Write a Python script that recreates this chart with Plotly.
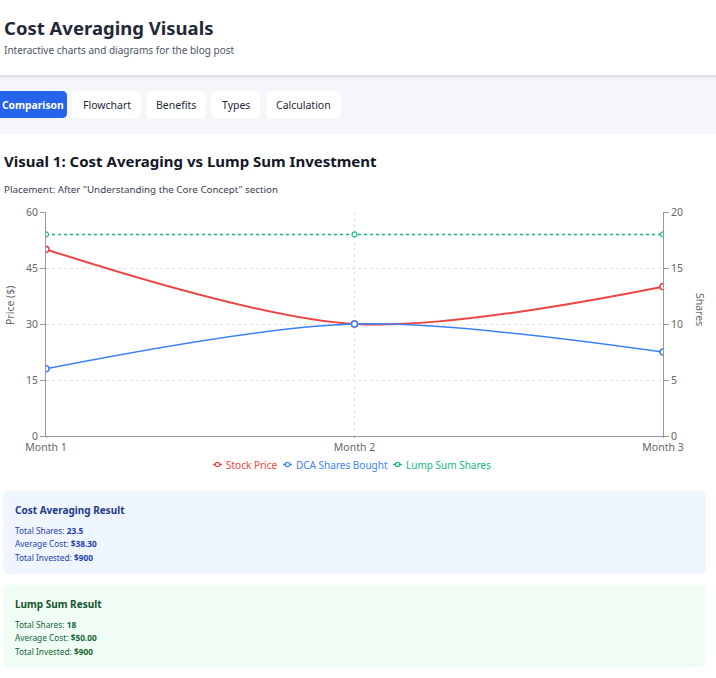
import plotly.graph_objects as go

# ---- data ----
months = ["Month 1", "Month 2", "Month 3"]
stock_price = [50, 30, 40]
dca_shares = [6, 10, 7.5]
lump_shares = [18, 18, 18]
price_ticks = [0, 15, 30, 45, 60]
share_ticks = [0, 5, 10, 15, 20]

series_names = ["Stock Price", "DCA Shares Bought", "Lump Sum Shares"]
tabs = ["Comparison", "Flowchart", "Benefits", "Types", "Calculation"]

dca_lines = [("Total Shares: ", "23.5"), ("Average Cost: ", "$38.30"), ("Total Invested: ", "$900")]
lump_lines = [("Total Shares: ", "18"), ("Average Cost: ", "$50.00"), ("Total Invested: ", "$900")]

# ---- page geometry (pixels) ----
W, H = 716, 678
L, R, T, B = 46, 663, 212, 436
FONT = "Noto Sans"

def px(x):
    return (x - L) / (R - L)

def py(y):
    return (B - y) / (B - T)

RED, BLUE, GREEN = "#ef4444", "#3b82f6", "#10b981"
COLORS = [RED, BLUE, GREEN]

fig = go.Figure()
fig.add_trace(go.Scatter(
    x=months, y=stock_price, name=series_names[0], mode="lines+markers",
    line=dict(color=RED, width=2, shape="spline", smoothing=0.9),
    marker=dict(symbol="circle", size=6, color="white", line=dict(color=RED, width=1.6)),
    yaxis="y"))
fig.add_trace(go.Scatter(
    x=months, y=dca_shares, name=series_names[1], mode="lines+markers",
    line=dict(color=BLUE, width=1.5, shape="spline", smoothing=0.9),
    marker=dict(symbol="circle", size=6, color="white", line=dict(color=BLUE, width=1.5)),
    yaxis="y2"))
fig.add_trace(go.Scatter(
    x=months, y=lump_shares, name=series_names[2], mode="lines+markers",
    line=dict(color=GREEN, width=1.5, dash="3px,3px"),
    marker=dict(symbol="circle", size=5, color="white", line=dict(color=GREEN, width=1.2)),
    yaxis="y2"))

shapes = []
annotations = []

def rect(x0, y0, x1, y1, color, layer="below"):
    shapes.append(dict(type="rect", xref="paper", yref="paper",
                       x0=px(x0), x1=px(x1), y0=py(y1), y1=py(y0),
                       fillcolor=color, line=dict(width=0), layer=layer))

def rrect(x0, y0, x1, y1, r, color, layer="below"):
    X0, X1 = px(x0), px(x1)
    rx = r / (R - L)
    ry = r / (B - T)
    Y0, Y1 = py(y1), py(y0)
    path = (f"M {X0+rx},{Y0} L {X1-rx},{Y0} Q {X1},{Y0} {X1},{Y0+ry} "
            f"L {X1},{Y1-ry} Q {X1},{Y1} {X1-rx},{Y1} L {X0+rx},{Y1} "
            f"Q {X0},{Y1} {X0},{Y1-ry} L {X0},{Y0+ry} Q {X0},{Y0} {X0+rx},{Y0} Z")
    shapes.append(dict(type="path", xref="paper", yref="paper", path=path,
                       fillcolor=color, line=dict(width=0), layer=layer))

def text(x, y, s, size, color, bold=False, xanchor="left", angle=0):
    annotations.append(dict(
        xref="paper", yref="paper", x=px(x), y=py(y), text=(f"<b>{s}</b>" if bold else s),
        showarrow=False, xanchor=xanchor, yanchor="middle", textangle=angle,
        borderpad=0, font=dict(family=FONT, size=size, color=color)))

# header + tab band
rect(0, 75, W, 134, "#f4f6f9")
shadow = ["#dcdfe4", "#e3e6ea", "#e9ecef", "#eef0f3", "#f1f3f6", "#f3f5f8"]
for i, c in enumerate(shadow):
    rect(0, 75 + i, W, 76 + i, c)
text(3, 27, "Cost Averaging Visuals", 18.5, "#1f2937", bold=True)
text(3, 50, "Interactive charts and diagrams for the blog post", 10, "#4b5563")

tab_x = [(-10, 67), (72, 141), (146, 206), (211, 260), (266, 341)]
for i, (name, (a, b)) in enumerate(zip(tabs, tab_x)):
    active = i == 0
    rrect(a, 91, b, 118, 5, "#2563eb" if active else "#ffffff")
    if active:
        text(1, 104.5, name, 10.3, "#ffffff", bold=True, xanchor="left")
    else:
        text((a + b) / 2, 104.5, name, 10.5, "#1f2937", xanchor="center")

text(3, 161, "Visual 1: Cost Averaging vs Lump Sum Investment", 15, "#111827", bold=True)
text(3, 190, "Placement: After \"Understanding the Core Concept\" section", 9.8, "#374151")

# axis titles
text(10, 306, "Price ($)", 10.5, "#666666", xanchor="center", angle=-90)
text(700, 309, "Shares", 10.5, "#666666", xanchor="center", angle=90)

# legend (compact, like the reference)
leg_x = [213, 283, 393]
for name, col, lx in zip(series_names, COLORS, leg_x):
    ly = 464.5
    shapes.append(dict(type="line", xref="paper", yref="paper",
                       x0=px(lx), x1=px(lx + 9), y0=py(ly), y1=py(ly),
                       line=dict(color=col, width=1.5)))
    shapes.append(dict(type="circle", xref="paper", yref="paper",
                       x0=px(lx + 2.3), x1=px(lx + 6.7), y0=py(ly + 2.2), y1=py(ly - 2.2),
                       fillcolor="white", line=dict(color=col, width=1.2)))
    text(lx + 12, ly, name, 10, col)

# result boxes
def box(y0, y1, bg, title, lines, tcol, lcol):
    rrect(3, y0, 706, y1, 6, bg)
    text(14, y0 + 19, title, 10, tcol, bold=True)
    for k, (lab, val) in enumerate(lines):
        text(14, y0 + 39 + k * 13.5, f"{lab}<b>{val}</b>", 8.3, lcol)

box(491, 574, "#eff6ff", "Cost Averaging Result", dca_lines, "#1e3a8a", "#1e40af")
box(585, 667, "#f0fdf4", "Lump Sum Result", lump_lines, "#14532d", "#166534")

axis_common = dict(showline=True, linecolor="#999999", linewidth=1,
                   tickcolor="#999999",
                   tickfont=dict(family=FONT, size=10.5, color="#666666"),
                   zeroline=False)

fig.update_layout(
    width=W, height=H,
    margin=dict(l=L, r=W - R, t=T, b=H - B, pad=0),
    paper_bgcolor="white", plot_bgcolor="white",
    font=dict(family=FONT),
    showlegend=False,
    xaxis=dict(type="category", range=[0, 2], showgrid=True, gridcolor="#e3e3e3",
               griddash="3px,3px", ticks="outside", ticklen=1, **axis_common),
    yaxis=dict(range=[0, 60], tickvals=price_ticks, showgrid=True,
               gridcolor="#e3e3e3", griddash="3px,3px", ticks="outside", ticklen=5,
               **axis_common),
    yaxis2=dict(range=[0, 20], tickvals=share_ticks, overlaying="y", side="right",
                showgrid=False, ticks="outside", ticklen=5, **axis_common),
    shapes=shapes, annotations=annotations,
)

fig.write_html("out.html", config={"displayModeBar": False},
               post_script="document.body.style.margin='0';")
